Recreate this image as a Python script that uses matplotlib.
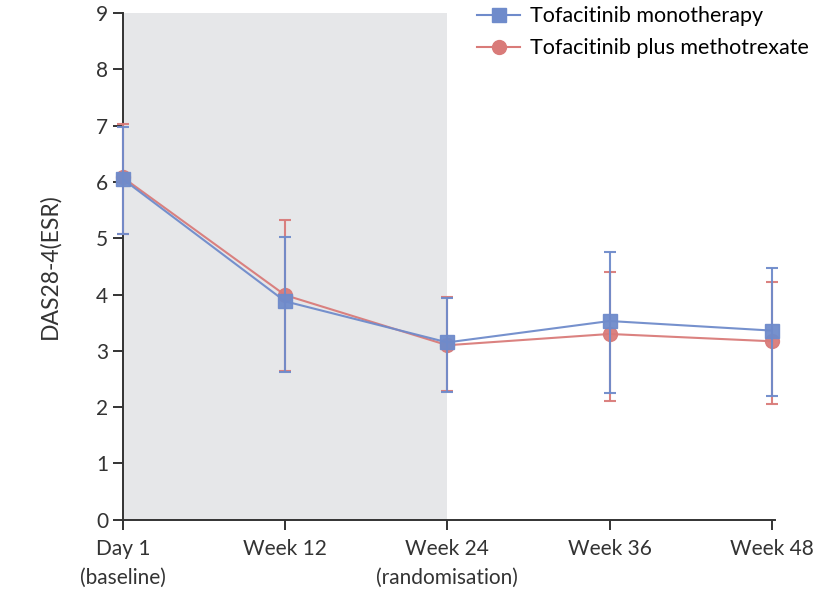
import matplotlib
matplotlib.use("Agg")
import matplotlib.pyplot as plt
from matplotlib.lines import Line2D

plt.rcParams['font.family'] = ['Lato', 'DejaVu Sans']

weeks = [0, 12, 24, 36, 48]
tick_labels = ["Day 1\n(baseline)", "Week 12", "Week 24\n(randomisation)", "Week 36", "Week 48"]

mono_mean = [6.05, 3.88, 3.15, 3.53, 3.36]
mono_upper = [6.97, 5.03, 3.93, 4.76, 4.47]
mono_lower = [5.08, 2.63, 2.27, 2.26, 2.20]

mtx_mean = [6.08, 3.99, 3.10, 3.30, 3.17]
mtx_upper = [7.03, 5.33, 3.95, 4.40, 4.23]
mtx_lower = [5.08, 2.65, 2.28, 2.11, 2.06]

blue = "#6f8bcb"
red = "#d97b79"

fig = plt.figure(figsize=(8.3, 5.92), dpi=100)
ax = fig.add_axes([0.148, 0.122, 0.786, 0.856])

ax.axvspan(0, 24, color="#e6e7e9", zorder=0, lw=0)

def err(mean, up, lo):
    return [[m - l for m, l in zip(mean, lo)], [u - m for u, m in zip(up, mean)]]

for mean, up, lo, c, mk, z in [(mtx_mean, mtx_upper, mtx_lower, red, "o", 3),
                               (mono_mean, mono_upper, mono_lower, blue, "s", 4)]:
    cont = ax.errorbar(weeks, mean, yerr=err(mean, up, lo), color=c,
                       marker=mk, markersize=10, lw=1.5, elinewidth=1.5, capsize=4, capthick=1.5,
                       zorder=z, alpha=0.95)
    for art in [cont[0], *cont[1], *cont[2]]:
        art.set_clip_on(False)

ax.set_xlim(0, 48.25)
ax.set_ylim(0, 9)
ax.set_yticks(range(0, 10))
ax.set_xticks(weeks)
ax.set_xticklabels(tick_labels, linespacing=1.55)
ax.tick_params(axis='both', labelsize=15, direction='out', length=7, width=1.4, colors='#333333')
ax.tick_params(axis='x', pad=7)
for s in ['top', 'right']:
    ax.spines[s].set_visible(False)
for s in ['left', 'bottom']:
    ax.spines[s].set_linewidth(1.4)
    ax.spines[s].set_color('#333333')

ax.set_ylabel("DAS28-4(ESR)", fontsize=16.5, color='#333333', labelpad=26)

handles = [Line2D([], [], color=blue, marker="s", markersize=10, lw=1.5),
           Line2D([], [], color=red, marker="o", markersize=10, lw=1.5)]
labels = ["Tofacitinib monotherapy", "Tofacitinib plus methotrexate"]
ax.legend(handles, labels, loc='upper right', bbox_to_anchor=(1.065, 1.03),
          frameon=False, fontsize=15.5, handlelength=2.0, handletextpad=0.45,
          labelspacing=0.55, borderaxespad=0)

fig.savefig("out.png", dpi=100)
